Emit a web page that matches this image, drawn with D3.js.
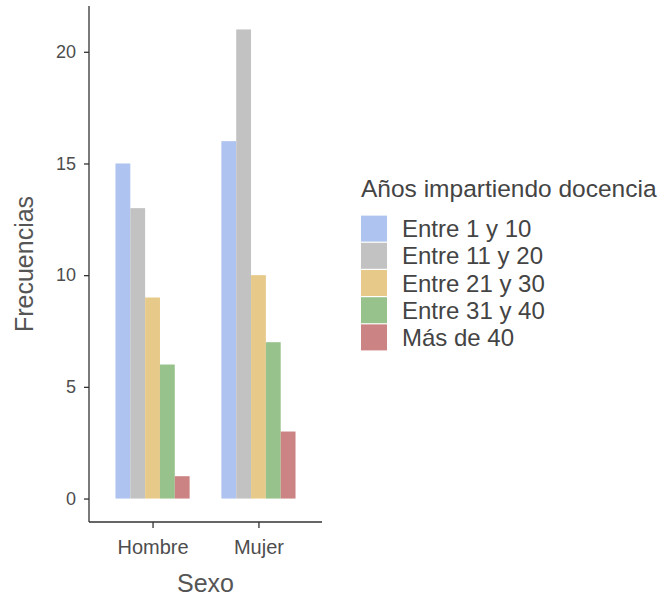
<!DOCTYPE html>
<html>
<head>
<meta charset="utf-8">
<script src="https://cdn.jsdelivr.net/npm/d3@7"></script>
<style>
  body { margin: 0; background: #fff; }
  text { font-family: "Liberation Sans", Arial, sans-serif; }
</style>
</head>
<body>
<svg id="chart" width="667" height="598"></svg>
<script>
// data
var sexos = ["Hombre", "Mujer"];
var grupos = ["Entre 1 y 10", "Entre 11 y 20", "Entre 21 y 30", "Entre 31 y 40", "Más de 40"];
var hombre = [15, 13, 9, 6, 1];
var mujer = [16, 21, 10, 7, 3];
var yTicks = [0, 5, 10, 15, 20];
var colores = ["#aec3ef", "#c2c2c2", "#e7ca89", "#98c28c", "#cc8383"];

var valores = { "Hombre": hombre, "Mujer": mujer };

var svg = d3.select("#chart");
var pLeft = 89, pRight = 322, pTop = 6, pBottom = 522;

var x = d3.scaleBand().domain(sexos).range([pLeft, pRight])
	.paddingInner(0.3).paddingOuter(0.25);
var xs = d3.scaleBand().domain(grupos).range([0, x.bandwidth()]);
var y = d3.scaleLinear().domain([-1.05, 22.05]).range([pBottom, pTop]);
var color = d3.scaleOrdinal().domain(grupos).range(colores);

// bars
var g = svg.append("g");
sexos.forEach(function (s) {
	var grp = g.append("g").attr("transform", "translate(" + x(s) + ",0)");
	grp.selectAll("rect")
		.data(valores[s])
		.enter().append("rect")
		.attr("x", function (d, i) { return xs(grupos[i]); })
		.attr("width", xs.bandwidth())
		.attr("y", function (d) { return y(d); })
		.attr("height", function (d) { return y(0) - y(d); })
		.attr("fill", function (d, i) { return color(grupos[i]); });
});

// axes
var yAxis = d3.axisLeft(y).tickValues(yTicks).tickSize(5).tickPadding(8);
var ya = svg.append("g").attr("transform", "translate(" + pLeft + ",0)").call(yAxis);
ya.select(".domain").attr("d", "M0," + pTop + "V" + pBottom);

var xAxis = d3.axisBottom(d3.scalePoint().domain(sexos)
	.range([x("Hombre") + x.bandwidth() / 2, x("Mujer") + x.bandwidth() / 2]))
	.tickSize(6).tickPadding(12);
var xa = svg.append("g").attr("transform", "translate(0," + pBottom + ")").call(xAxis);
xa.select(".domain").attr("d", "M" + pLeft + ",0H" + pRight);

svg.selectAll(".domain").attr("stroke", "#333").attr("stroke-width", 1.3);
svg.selectAll(".tick line").attr("stroke", "#333").attr("stroke-width", 1.3);
ya.selectAll(".tick text").attr("font-size", 18).attr("fill", "#4d4d4d")
	.attr("font-family", "Liberation Sans, Arial, sans-serif");
xa.selectAll(".tick text").attr("font-size", 20).attr("fill", "#4d4d4d")
	.attr("font-family", "Liberation Sans, Arial, sans-serif");

// axis titles
svg.append("text")
	.attr("x", (pLeft + pRight) / 2).attr("y", 592)
	.attr("text-anchor", "middle").attr("font-size", 25).attr("fill", "#555")
	.text("Sexo");
svg.append("text")
	.attr("transform", "translate(33," + ((pTop + pBottom) / 2) + ") rotate(-90)")
	.attr("text-anchor", "middle").attr("font-size", 25).attr("fill", "#555")
	.text("Frecuencias");

// legend
var lg = svg.append("g");
lg.append("text").attr("x", 361).attr("y", 197)
	.attr("font-size", 24.5).attr("fill", "#444")
	.text("Años impartiendo docencia");
var keyH = 27.2;
grupos.forEach(function (d, i) {
	var ky = 215 + i * keyH;
	lg.append("rect").attr("x", 361).attr("y", ky + 0.6)
		.attr("width", 26).attr("height", keyH - 1.2)
		.attr("fill", color(d));
	lg.append("text").attr("x", 402).attr("y", ky + keyH / 2)
		.attr("dy", "0.36em").attr("font-size", 24).attr("fill", "#444")
		.text(d);
});
</script>
</body>
</html>
